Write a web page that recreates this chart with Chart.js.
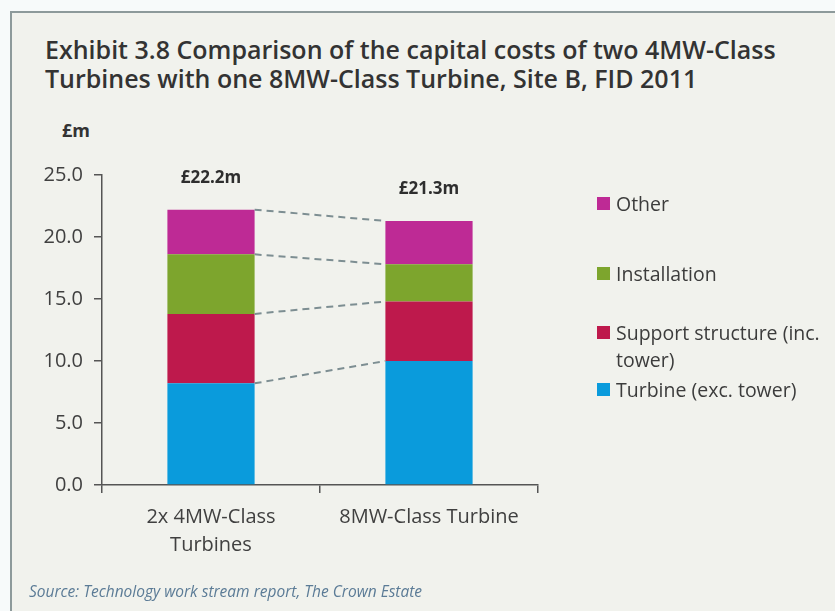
<!DOCTYPE html>
<html>
<head>
<meta charset="utf-8">
<script src="https://cdn.jsdelivr.net/npm/chart.js@4.4.1/dist/chart.umd.min.js"></script>
<style>
  html, body { margin: 0; padding: 0; }
  body {
    width: 835px; height: 611px; overflow: hidden; position: relative;
    background: #f7fafa; font-family: "Open Sans", sans-serif; color: #3a3a3a;
  }
  .panel {
    position: absolute; left: 10px; top: 11px; width: 830px; height: 600px;
    background: #f1f2ed; border-left: 2px solid #8d9a9b; border-top: 2px solid #8d9a9b;
  }
  .title {
    position: absolute; left: 45px; top: 35px; margin: 0; white-space: nowrap;
    font-size: 25px; font-weight: 600; line-height: 29px; color: #333;
  }
  .unit {
    position: absolute; left: 62px; top: 118px;
    font-size: 18px; font-weight: 700; color: #333;
  }
  canvas { position: absolute; left: 0; top: 0; }
  .legend { position: absolute; left: 597px; top: 0; width: 240px; }
  .legend div { position: absolute; left: 0; width: 240px; font-size: 19.5px; line-height: 27px; color: #3c3c3c; }
  .legend span.sw { position: absolute; left: 0; top: 7px; width: 13px; height: 13px; }
  .legend span.tx { display: block; padding-left: 19px; width: 219px; }
  .source {
    position: absolute; left: 29px; top: 580px; white-space: nowrap;
    font-size: 15.5px; font-style: italic; color: #5b7b96;
  }
</style>
</head>
<body>
<div class="panel"></div>
<h1 class="title">Exhibit 3.8 Comparison of the capital costs of two 4MW-Class<br>Turbines with one 8MW-Class Turbine, Site B, FID 2011</h1>
<div class="unit">£m</div>
<canvas id="costs" width="835" height="611"></canvas>
<div class="legend" id="legend"></div>
<div class="source">Source: Technology work stream report, The Crown Estate</div>

<script>
// categories and cost components, £m
const categories = [['2x 4MW-Class', 'Turbines'], '8MW-Class Turbine'];
const turbine = [8.2, 10.0];
const support = [5.6, 4.8];
const installation = [4.8, 3.0];
const other = [3.6, 3.5];
const yTicks = [0, 5, 10, 15, 20, 25];

const seriesNames = ['Turbine (exc. tower)', 'Support structure (inc. tower)', 'Installation', 'Other'];
const seriesColors = ['#0a9bdc', '#be194c', '#7da52d', '#be2a95'];

const datasets = [turbine, support, installation, other].map((vals, i) => ({
  label: seriesNames[i],
  data: vals,
  backgroundColor: seriesColors[i],
  borderWidth: 0,
  barPercentage: 0.4,
  categoryPercentage: 1
}));

const totals = categories.map((c, j) => datasets.reduce((s, d) => s + d.data[j], 0));

// dashed links between segment tops of neighbouring bars, plus total labels
const linksAndTotals = {
  id: 'linksAndTotals',
  afterDatasetsDraw(chart) {
    const ctx = chart.ctx;
    ctx.save();
    ctx.strokeStyle = '#7d8e92';
    ctx.lineWidth = 2;
    ctx.setLineDash([7, 5]);
    chart.data.datasets.forEach((ds, i) => {
      const bars = chart.getDatasetMeta(i).data;
      for (let j = 0; j < bars.length - 1; j++) {
        const a = bars[j], b = bars[j + 1];
        ctx.beginPath();
        ctx.moveTo(a.x + a.width / 2, a.y);
        ctx.lineTo(b.x - b.width / 2, b.y);
        ctx.stroke();
      }
    });
    ctx.setLineDash([]);
    const top = chart.getDatasetMeta(chart.data.datasets.length - 1).data;
    ctx.fillStyle = '#2e2e2e';
    ctx.font = '700 17px "Open Sans"';
    ctx.textAlign = 'center';
    ctx.textBaseline = 'middle';
    top.forEach((bar, j) => {
      ctx.fillText('£' + totals[j].toFixed(1) + 'm', bar.x, bar.y - 32);
    });
    ctx.restore();
  }
};

new Chart(document.getElementById('costs'), {
  type: 'bar',
  data: { labels: categories, datasets: datasets },
  plugins: [linksAndTotals],
  options: {
    responsive: false,
    animation: false,
    layout: { padding: { left: 0, top: 175, right: 297, bottom: 46 } },
    plugins: { legend: { display: false }, tooltip: { enabled: false } },
    scales: {
      x: {
        stacked: true,
        afterFit(scale) { scale.height = 80; },
        border: { color: '#555', width: 1.5 },
        grid: { drawOnChartArea: false, tickLength: 8, color: '#555', lineWidth: 1.5, offset: true },
        ticks: { color: '#404040', padding: 10, font: { family: 'Open Sans', size: 20, lineHeight: 1.4 } }
      },
      y: {
        stacked: true,
        min: 0,
        max: 25,
        afterFit(scale) { scale.width = 102; },
        afterBuildTicks(scale) { scale.ticks = yTicks.map(v => ({ value: v })); },
        border: { color: '#555', width: 1.5 },
        grid: { drawOnChartArea: false, tickLength: 8, color: '#555', lineWidth: 1.5 },
        ticks: {
          color: '#404040', padding: 11,
          font: { family: 'Open Sans', size: 20 },
          callback: v => v.toFixed(1)
        }
      }
    }
  }
});

// legend, top item first
const legendTops = [190, 260, 319, 376];
const legend = document.getElementById('legend');
[3, 2, 1, 0].forEach((i, k) => {
  const item = document.createElement('div');
  item.style.top = legendTops[k] + 'px';
  item.innerHTML = '<span class="sw" style="background:' + seriesColors[i] + '"></span><span class="tx">' + seriesNames[i] + '</span>';
  legend.appendChild(item);
});
</script>
</body>
</html>
